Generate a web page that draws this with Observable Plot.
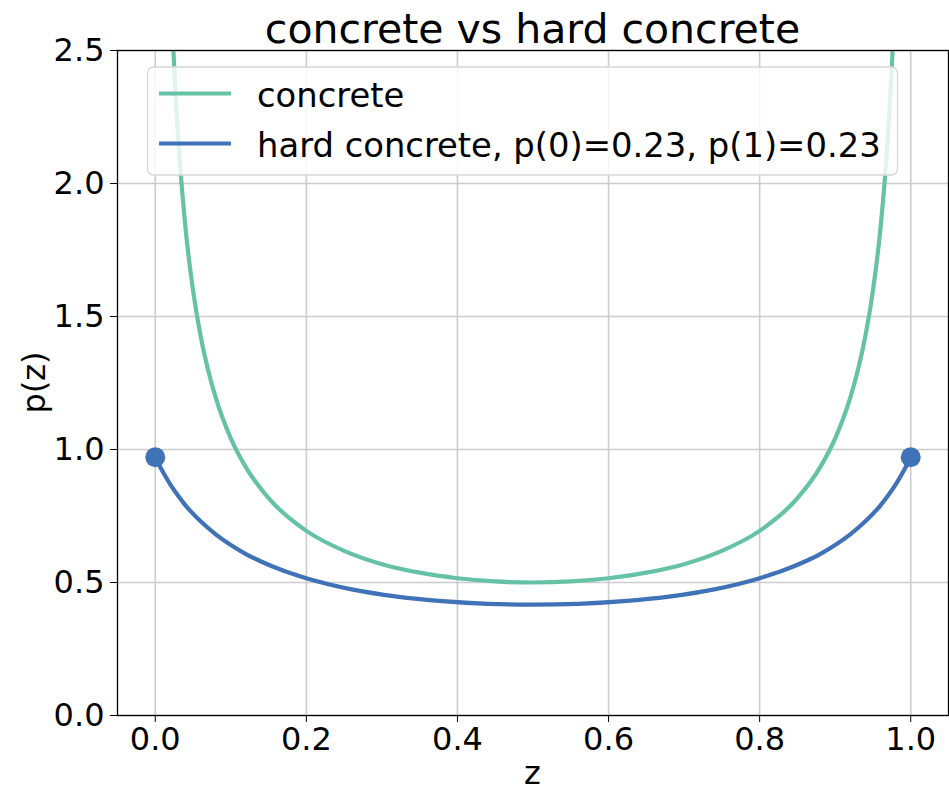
<!DOCTYPE html>
<html>
<head>
<meta charset="utf-8">
<script src="https://cdn.jsdelivr.net/npm/d3@7"></script>
<script src="https://cdn.jsdelivr.net/npm/@observablehq/plot@0.6"></script>
<style>
  html, body { margin: 0; padding: 0; background: #fff; }
  #chart { width: 949px; height: 795px; }
</style>
</head>
<body>
<div id="chart"></div>
<script>
const titleText = "concrete vs hard concrete";
const xLabel = "z";
const yLabel = "p(z)";
const seriesNames = ["concrete", "hard concrete, p(0)=0.23, p(1)=0.23"];
const xTicks = [0.0, 0.2, 0.4, 0.6, 0.8, 1.0];
const yTicks = [0.0, 0.5, 1.0, 1.5, 2.0, 2.5];

const concreteZ = [0.01,0.015,0.02,0.025,0.03,0.04,0.05,0.06,0.07,0.08,0.10,0.12,0.15,0.20,0.25,0.30,0.35,0.40,0.45,0.50,0.55,0.60,0.65,0.70,0.75,0.80,0.85,0.88,0.90,0.92,0.93,0.94,0.95,0.96,0.97,0.975,0.98,0.985,0.99];
const concreteP = [4.191,3.309,2.790,2.441,2.186,1.833,1.598,1.427,1.298,1.195,1.042,0.933,0.817,0.694,0.619,0.569,0.537,0.516,0.504,0.500,0.504,0.516,0.537,0.569,0.619,0.694,0.817,0.933,1.042,1.195,1.298,1.427,1.598,1.833,2.186,2.441,2.790,3.309,4.191];

const hardZ = [0,0.01,0.02,0.03,0.04,0.06,0.08,0.10,0.12,0.14,0.17,0.20,0.26,0.32,0.38,0.44,0.50,0.56,0.62,0.68,0.74,0.80,0.83,0.86,0.88,0.90,0.92,0.94,0.96,0.97,0.98,0.99,1.0];
const hardP = [0.971,0.916,0.868,0.827,0.790,0.730,0.681,0.641,0.607,0.579,0.544,0.516,0.474,0.447,0.430,0.420,0.417,0.420,0.430,0.447,0.474,0.516,0.544,0.579,0.607,0.641,0.681,0.730,0.790,0.827,0.868,0.916,0.971];

const dotZ = [0.0, 1.0];
const dotP = [0.971, 0.971];

const colors = ["#66c2a5", "#3f72b7"];

const concreteData = concreteZ.map((z, i) => ({z, p: concreteP[i]}));
const hardData = hardZ.map((z, i) => ({z, p: hardP[i]}));
const dotData = dotZ.map((z, i) => ({z, p: dotP[i]}));

const W = 949, H = 795;
const mL = 117, mR = 1, mT = 50, mB = 80;

const plot = Plot.plot({
  width: W, height: H,
  marginLeft: mL, marginRight: mR, marginTop: mT, marginBottom: mB,
  style: {fontFamily: "DejaVu Sans", fontSize: "32px", color: "#000", background: "#fff"},
  x: {domain: [-0.05, 1.05], label: null},
  y: {domain: [0, 2.5], label: null},
  marks: [
    Plot.gridX(xTicks, {stroke: "#cccccc", strokeOpacity: 1, strokeWidth: 1.6}),
    Plot.gridY(yTicks, {stroke: "#cccccc", strokeOpacity: 1, strokeWidth: 1.6}),
    Plot.line(concreteData, {x: "z", y: "p", stroke: colors[0], strokeWidth: 4.2, curve: "monotone-x", clip: true}),
    Plot.line(hardData, {x: "z", y: "p", stroke: colors[1], strokeWidth: 4.2, curve: "monotone-x", clip: true}),
    Plot.dot(dotData, {x: "z", y: "p", r: 10, fill: colors[1], stroke: "none"}),
    Plot.frame({stroke: "#000", strokeWidth: 1.3}),
    Plot.axisX(xTicks, {tickSize: 7, tickPadding: 5, tickFormat: d3.format(".1f"), fontSize: 32, label: null, stroke: "#000"}),
    Plot.axisY(yTicks, {tickSize: 7, tickPadding: 6, tickFormat: d3.format(".1f"), fontSize: 32, label: null, stroke: "#000"})
  ]
});

document.getElementById("chart").appendChild(plot);

const svg = d3.select(plot);
const font = "DejaVu Sans";

// title
svg.append("text")
  .attr("x", (mL + (W - mR)) / 2).attr("y", 43)
  .attr("text-anchor", "middle")
  .attr("font-family", font).attr("font-size", 41).attr("fill", "#000")
  .text(titleText);

// x label
svg.append("text")
  .attr("x", (mL + (W - mR)) / 2).attr("y", 784)
  .attr("text-anchor", "middle")
  .attr("font-family", font).attr("font-size", 32).attr("fill", "#000")
  .text(xLabel);

// y label
svg.append("text")
  .attr("transform", `translate(45, ${(mT + (H - mB)) / 2}) rotate(-90)`)
  .attr("text-anchor", "middle")
  .attr("font-family", font).attr("font-size", 32).attr("fill", "#000")
  .text(yLabel);

// legend
const lg = svg.append("g");
lg.append("rect")
  .attr("x", 147.5).attr("y", 67).attr("width", 750).attr("height", 108)
  .attr("rx", 6).attr("ry", 6)
  .attr("fill", "#fff").attr("fill-opacity", 0.8)
  .attr("stroke", "#d6d6d6").attr("stroke-width", 1.3);
const rows = [93.5, 143.5];
seriesNames.forEach((name, i) => {
  lg.append("line")
    .attr("x1", 159).attr("x2", 231).attr("y1", rows[i]).attr("y2", rows[i])
    .attr("stroke", colors[i]).attr("stroke-width", 4.2);
  lg.append("text")
    .attr("x", 257).attr("y", rows[i] + 13)
    .attr("text-anchor", "start")
    .attr("font-family", font).attr("font-size", 33.8).attr("fill", "#000")
    .text(name);
});
</script>
</body>
</html>
